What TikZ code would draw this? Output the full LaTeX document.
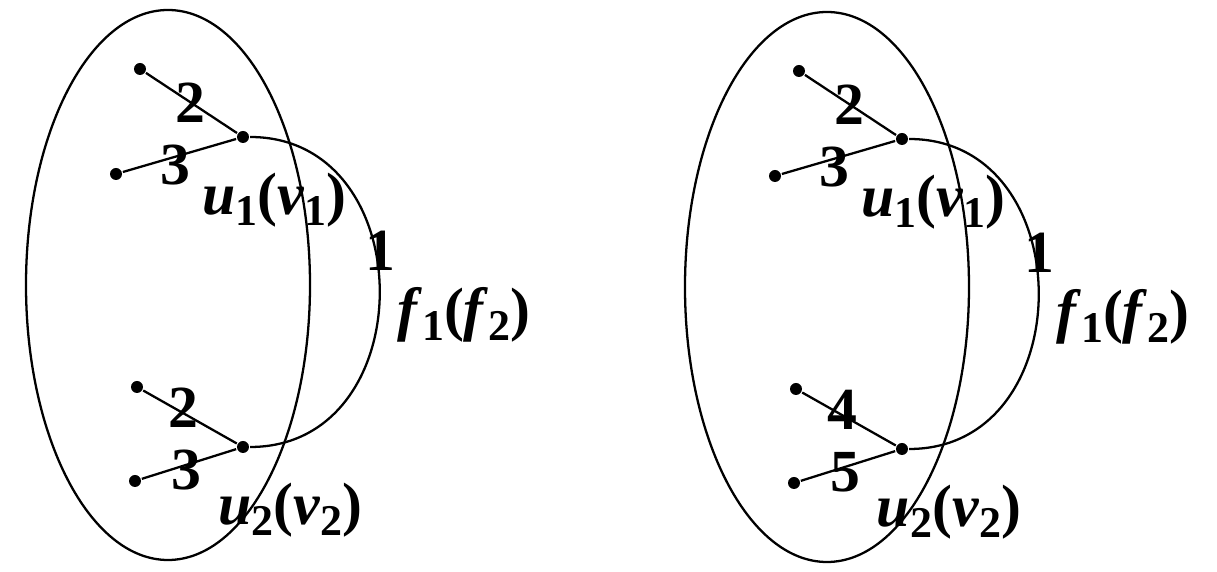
\documentclass[tikz,border=0pt]{standalone}
\usepackage{fontspec}
\setmainfont{Liberation Serif}
\newcommand\lsub[1]{\raisebox{-0.18em}{\fontsize{12.5}{12.5}\selectfont\upshape #1}}
\begin{document}
\begin{tikzpicture}[
  line width=0.65pt,
  vtx/.style={circle,fill=black,inner sep=0pt,minimum size=0.12cm},
  lab/.style={inner sep=0pt,font=\fontsize{17}{17}\selectfont\bfseries},
  setell/.style={draw,line width=0.65pt}
]
\useasboundingbox (0,0) rectangle (12.17,-5.72);
% ---------- left graph ----------
\draw[setell] (1.68,-2.85) ellipse [x radius=1.42, y radius=2.75];
\node[vtx] (Lu1) at (2.43,-1.37) {};
\node[vtx] (La) at (1.40,-0.69) {};
\node[vtx] (Lb) at (1.16,-1.74) {};
\node[vtx] (Lu2) at (2.43,-4.47) {};
\node[vtx] (Lc) at (1.37,-3.87) {};
\node[vtx] (Ld) at (1.35,-4.81) {};
\draw (La) -- (Lu1);
\draw (Lb) -- (Lu1);
\draw (Lc) -- (Lu2);
\draw (Ld) -- (Lu2);
\draw (Lu1) .. controls +(1.8,0) and +(1.8,0) .. (Lu2);
\node[lab] (L2a) at (1.90,-1.03) {2};
\node[lab] (L3a) at (1.75,-1.65) {3};
\node[lab] (L2b) at (1.83,-4.08) {2};
\node[lab] (L3b) at (1.86,-4.70) {3};
\node[lab] (L1) at (3.80,-2.51) {1};
\node[lab] (Lu1l) at (2.74,-2.00) {\textit{u}\lsub{1}(\textit{v}\lsub{1})};
\node[lab] (Lu2l) at (2.90,-5.10) {\textit{u}\lsub{2}(\textit{v}\lsub{2})};
\node[lab] (Lf) at (4.64,-3.15) {\textit{f}\lsub{1}(\textit{f}\lsub{2})};
% ---------- right graph ----------
\begin{scope}[shift={(6.59,-0.02)}]
\draw[setell] (1.68,-2.85) ellipse [x radius=1.42, y radius=2.75];
\node[vtx] (Ru1) at (2.43,-1.37) {};
\node[vtx] (Ra) at (1.40,-0.69) {};
\node[vtx] (Rb) at (1.16,-1.74) {};
\node[vtx] (Ru2) at (2.43,-4.47) {};
\node[vtx] (Rc) at (1.37,-3.87) {};
\node[vtx] (Rd) at (1.35,-4.81) {};
\draw (Ra) -- (Ru1);
\draw (Rb) -- (Ru1);
\draw (Rc) -- (Ru2);
\draw (Rd) -- (Ru2);
\draw (Ru1) .. controls +(1.8,0) and +(1.8,0) .. (Ru2);
\node[lab] (R2a) at (1.90,-1.03) {2};
\node[lab] (R3a) at (1.75,-1.65) {3};
\node[lab] (R4) at (1.83,-4.08) {4};
\node[lab] (R5) at (1.86,-4.70) {5};
\node[lab] (R1) at (3.80,-2.51) {1};
\node[lab] (Ru1l) at (2.74,-2.00) {\textit{u}\lsub{1}(\textit{v}\lsub{1})};
\node[lab] (Ru2l) at (2.90,-5.10) {\textit{u}\lsub{2}(\textit{v}\lsub{2})};
\node[lab] (Rf) at (4.64,-3.15) {\textit{f}\lsub{1}(\textit{f}\lsub{2})};
\end{scope}
\end{tikzpicture}
\end{document}
